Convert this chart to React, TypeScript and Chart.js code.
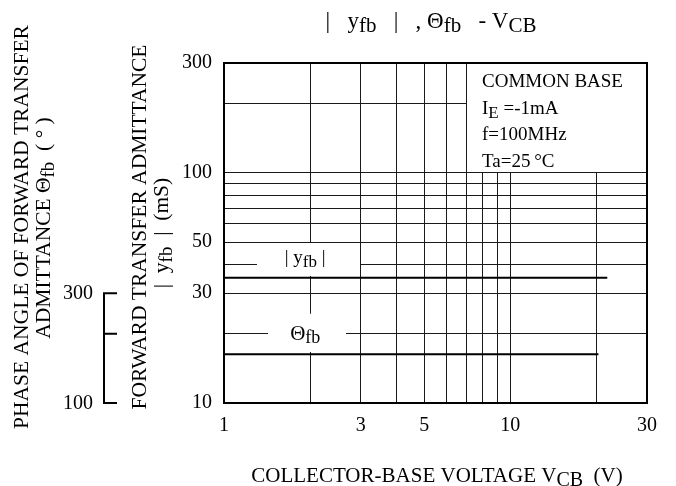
import { useEffect, useRef } from 'react';
import { Chart, registerables } from 'chart.js';

Chart.register(...registerables);

// ---- data ----
const vcbYfb = [1, 21.8];
const yfbValues = [35, 35]; // mS
const vcbTheta = [1, 20.3];
const thetaValues = [163, 163]; // degrees
const xGridValues = [1, 2, 3, 4, 5, 6, 7, 8, 9, 10, 20, 30];
const yGridValues = [10, 20, 30, 40, 50, 60, 70, 80, 90, 100, 200, 300];
const xTickLabels = [1, 3, 5, 10, 30];
const yTickLabels = [10, 30, 50, 100, 300];
const phaseTickLabels = [100, 300];
const phaseBracketTicks = [100, 200, 300];

const FAMILY = '"Liberation Serif", "Times New Roman", serif';
const font = (size: number) => `${size}px ${FAMILY}`;

type Part = { t: string; size: number; dy?: number };

function richWidth(ctx: CanvasRenderingContext2D, parts: Part[]) {
  let w = 0;
  for (const p of parts) {
    ctx.font = font(p.size);
    w += ctx.measureText(p.t).width;
  }
  return w;
}

function drawRich(
  ctx: CanvasRenderingContext2D,
  parts: Part[],
  x: number,
  y: number,
  align: 'left' | 'center' | 'right'
) {
  const w = richWidth(ctx, parts);
  let cx = align === 'left' ? x : align === 'center' ? x - w / 2 : x - w;
  ctx.textAlign = 'left';
  ctx.textBaseline = 'alphabetic';
  for (const p of parts) {
    ctx.font = font(p.size);
    ctx.fillText(p.t, cx, y + (p.dy || 0));
    cx += ctx.measureText(p.t).width;
  }
}

function drawRotated(ctx: CanvasRenderingContext2D, parts: Part[], x: number, y: number) {
  ctx.save();
  ctx.translate(x, y);
  ctx.rotate(-Math.PI / 2);
  drawRich(ctx, parts, 0, 0, 'center');
  ctx.restore();
}

const near = (list: number[], v: number) => list.some((l) => Math.abs(l - v) < 1e-6);

const decorPlugin = {
  id: 'decor',
  beforeDatasetsDraw(chart: any) {
    const { ctx, chartArea: a, scales } = chart;
    const x = scales.x;
    const y = scales.y;
    const y2 = scales.y2;
    ctx.save();
    ctx.fillStyle = '#fff';
    // conditions box
    const bx = Math.round(x.getPixelForValue(7)) + 1;
    const by = Math.round(y.getPixelForValue(100)) - 1;
    ctx.fillRect(bx, a.top + 1, a.right - bx - 1, by - a.top - 1);
    // |yfb| label gap
    const g1t = Math.round(y.getPixelForValue(50)) + 1;
    const g1b = Math.round(y.getPixelForValue(yfbValues[0])) - 2;
    const g1r = Math.round(x.getPixelForValue(3)) - 1;
    ctx.fillRect(a.left + 33, g1t, g1r - a.left - 33, g1b - g1t);
    // Theta label gap
    const y20 = y.getPixelForValue(20);
    const g2b = Math.round(y2.getPixelForValue(thetaValues[0])) - 2;
    ctx.fillRect(a.left + 44, y20 - 20, 78, g2b - (y20 - 20));
    ctx.restore();
  },
  afterDatasetsDraw(chart: any) {
    const { ctx, chartArea: a, scales } = chart;
    const x = scales.x;
    const y = scales.y;
    ctx.save();
    ctx.fillStyle = '#000';
    // labels in the plot
    const lx = x.getPixelForValue(2) - 5;
    drawRich(
      ctx,
      [
        { t: '| y', size: 19 },
        { t: 'fb', size: 17, dy: 4 },
        { t: ' |', size: 19 },
      ],
      lx,
      y.getPixelForValue(40) - 1,
      'center'
    );
    drawRich(
      ctx,
      [
        { t: 'Θ', size: 21 },
        { t: 'fb', size: 18, dy: 3 },
      ],
      lx,
      y.getPixelForValue(20) + 6,
      'center'
    );
    // conditions
    const tx = x.getPixelForValue(7) + 16;
    drawRich(ctx, [{ t: 'COMMON BASE', size: 19 }], tx, a.top + 24, 'left');
    drawRich(
      ctx,
      [
        { t: 'I', size: 19 },
        { t: 'E', size: 17, dy: 4 },
        { t: ' =-1mA', size: 19 },
      ],
      tx,
      a.top + 51,
      'left'
    );
    drawRich(ctx, [{ t: 'f=100MHz', size: 19 }], tx, a.top + 77, 'left');
    drawRich(ctx, [{ t: 'Ta=25\u2009°C', size: 19 }], tx, a.top + 104, 'left');
    // frame
    ctx.strokeStyle = '#000';
    ctx.lineWidth = 2;
    ctx.strokeRect(a.left, a.top, a.right - a.left, a.bottom - a.top);
    ctx.restore();
  },
  afterDraw(chart: any) {
    const { ctx, chartArea: a, scales } = chart;
    const y2 = scales.y2;
    ctx.save();
    ctx.fillStyle = '#000';
    ctx.strokeStyle = '#000';
    // title
    drawRich(
      ctx,
      [
        { t: '|   y', size: 23 },
        { t: 'fb', size: 21, dy: 4 },
        { t: '   |   , Θ', size: 23 },
        { t: 'fb', size: 21, dy: 4 },
        { t: '   - V', size: 23 },
        { t: 'CB', size: 21, dy: 4 },
      ],
      431,
      28,
      'center'
    );
    // x axis title
    drawRich(
      ctx,
      [
        { t: 'COLLECTOR-BASE VOLTAGE V', size: 21 },
        { t: 'CB', size: 20, dy: 4 },
        { t: '  (V)', size: 21 },
      ],
      437,
      482,
      'center'
    );
    // left titles
    drawRotated(ctx, [{ t: 'PHASE ANGLE OF FORWARD TRANSFER', size: 21.5 }], 28, 227);
    drawRotated(
      ctx,
      [
        { t: 'ADMITTANCE Θ', size: 21.5 },
        { t: 'fb', size: 19, dy: 4 },
        { t: '  ( ° )', size: 21.5 },
      ],
      50,
      228
    );
    drawRotated(ctx, [{ t: 'FORWARD TRANSFER ADMITTANCE', size: 21.5 }], 146, 227);
    drawRotated(
      ctx,
      [
        { t: '|  y', size: 21.5 },
        { t: 'fb', size: 19, dy: 4 },
        { t: '  |  (mS)', size: 21.5 },
      ],
      168,
      233
    );
    // phase bracket axis
    const top = y2.getPixelForValue(Math.max(...phaseBracketTicks));
    const bot = y2.getPixelForValue(Math.min(...phaseBracketTicks));
    ctx.lineWidth = 2;
    ctx.beginPath();
    ctx.moveTo(104, top);
    ctx.lineTo(104, bot);
    for (const v of phaseBracketTicks) {
      const py = y2.getPixelForValue(v);
      ctx.moveTo(103, py);
      ctx.lineTo(117, py);
    }
    ctx.stroke();
    ctx.font = font(20);
    ctx.textAlign = 'right';
    ctx.textBaseline = 'middle';
    for (const v of phaseTickLabels) {
      ctx.fillText(String(v), 93, y2.getPixelForValue(v) + 1);
    }
    ctx.restore();
  },
};

export default function App() {
  const ref = useRef<HTMLCanvasElement | null>(null);
  useEffect(() => {
    if (!ref.current) return;
    const chart = new Chart(ref.current, {
      type: 'line',
      data: {
        datasets: [
          {
            label: '|yfb|',
            data: vcbYfb.map((v, i) => ({ x: v, y: yfbValues[i] })),
            borderColor: '#000',
            borderWidth: 2,
            pointRadius: 0,
            yAxisID: 'y',
          },
          {
            label: 'Θfb',
            data: vcbTheta.map((v, i) => ({ x: v, y: thetaValues[i] })),
            borderColor: '#000',
            borderWidth: 2,
            pointRadius: 0,
            yAxisID: 'y2',
          },
        ],
      },
      options: {
        animation: false,
        responsive: false,
        devicePixelRatio: 1,
        events: [],
        layout: { padding: { top: 63, right: 29, bottom: 0, left: 0 } },
        plugins: { legend: { display: false }, tooltip: { enabled: false } },
        scales: {
          x: {
            type: 'logarithmic',
            min: 1,
            max: 30,
            grid: { color: '#1a1a1a', lineWidth: 1, drawTicks: false },
            border: { display: false },
            afterBuildTicks: (s: any) => {
              s.ticks = xGridValues.map((v) => ({ value: v }));
            },
            ticks: {
              autoSkip: false,
              maxRotation: 0,
              padding: 11,
              color: '#000',
              font: { family: FAMILY, size: 20 },
              callback: (v: any) => (near(xTickLabels, Number(v)) ? String(v) : ''),
            },
            afterFit: (s: any) => {
              s.height = 83;
            },
          },
          y: {
            type: 'logarithmic',
            position: 'left',
            min: 10,
            max: 300,
            grid: { color: '#1a1a1a', lineWidth: 1, drawTicks: false },
            border: { display: false },
            afterBuildTicks: (s: any) => {
              s.ticks = yGridValues.map((v) => ({ value: v }));
            },
            ticks: {
              autoSkip: false,
              padding: 12,
              color: '#000',
              font: { family: FAMILY, size: 20 },
              callback: (v: any) => (near(yTickLabels, Number(v)) ? String(v) : ''),
            },
            afterFit: (s: any) => {
              s.width = 224;
            },
          },
          y2: {
            type: 'logarithmic',
            position: 'left',
            display: false,
            min: 100,
            max: 3000,
          },
        },
      } as any,
      plugins: [decorPlugin],
    });
    return () => chart.destroy();
  }, []);
  return (
    <div style={{ position: 'fixed', left: 0, top: 0, width: 676, height: 486, background: '#fff' }}>
      <canvas ref={ref} width={676} height={486} />
    </div>
  );
}
